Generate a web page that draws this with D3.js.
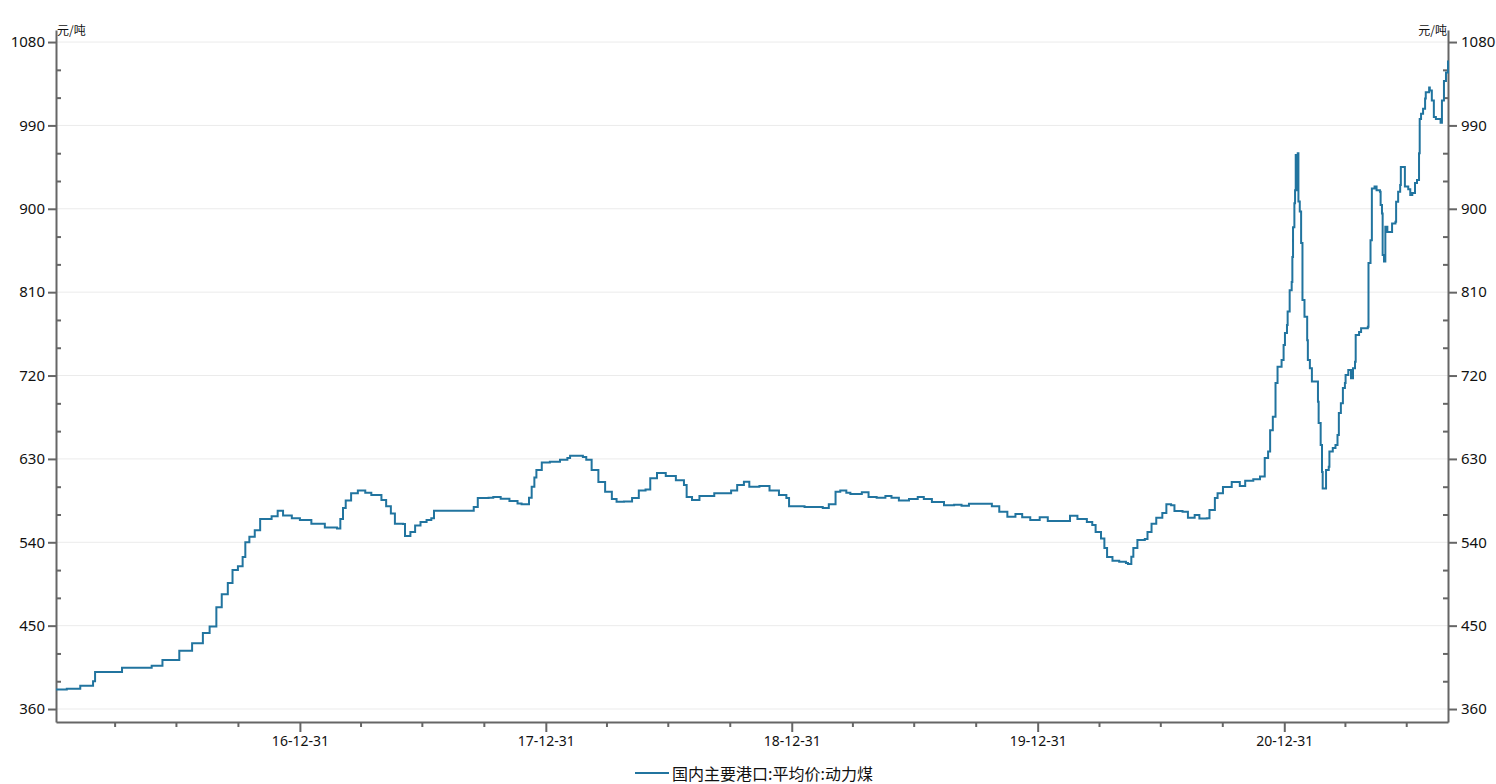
<!DOCTYPE html>
<html>
<head>
<meta charset="utf-8">
<script src="https://cdn.jsdelivr.net/npm/d3@7/dist/d3.min.js"></script>
<style>
  html, body { margin: 0; padding: 0; background: #fff; }
  svg { display: block; font-family: "Noto Sans", "Noto Sans CJK SC", sans-serif; }
</style>
</head>
<body>
<svg id="chart" width="1496" height="784"></svg>
<script>
// ---- data ----
const seriesName = "国内主要港口:平均价:动力煤";
const unitLabel = "元/吨";
const dates = [
"2016-01-04","2016-01-20","2016-02-09","2016-02-28","2016-03-02","2016-04-11","2016-05-25","2016-06-10","2016-07-05","2016-07-24",
"2016-08-09","2016-08-19","2016-08-29","2016-09-06","2016-09-15","2016-09-22","2016-09-30","2016-10-07","2016-10-11","2016-10-17",
"2016-10-25","2016-11-02","2016-11-19","2016-11-28","2016-12-06","2016-12-19","2016-12-31",
"2017-01-17","2017-02-06","2017-02-24","2017-03-01","2017-03-05","2017-03-09","2017-03-17","2017-03-27","2017-04-07","2017-04-16",
"2017-05-01","2017-05-08","2017-05-15","2017-05-21","2017-06-02","2017-06-05","2017-06-13","2017-06-20","2017-06-28","2017-07-07",
"2017-07-14","2017-07-18","2017-09-08","2017-09-15","2017-09-21","2017-10-07","2017-10-14","2017-10-25","2017-11-07","2017-11-19",
"2017-11-25","2017-12-06","2017-12-10","2017-12-14","2017-12-17","2017-12-25",
"2018-01-06","2018-01-21","2018-02-01","2018-02-05","2018-02-24","2018-03-01","2018-03-09","2018-03-19","2018-03-29","2018-04-08",
"2018-04-15","2018-04-26","2018-05-08","2018-05-18","2018-05-28","2018-06-04","2018-06-14","2018-06-27","2018-07-12","2018-07-24",
"2018-07-28","2018-08-05","2018-08-16","2018-09-07","2018-10-02","2018-10-11","2018-10-21","2018-10-29","2018-11-13","2018-11-28",
"2018-12-12","2018-12-23","2018-12-27",
"2019-01-19","2019-02-15","2019-02-24","2019-03-06","2019-03-13","2019-03-22","2019-03-28","2019-04-14","2019-04-24","2019-05-06",
"2019-05-19","2019-05-28","2019-06-08","2019-06-23","2019-07-06","2019-07-15","2019-07-27","2019-08-14","2019-08-29","2019-09-09",
"2019-09-20","2019-10-15","2019-10-24","2019-11-04","2019-11-16","2019-11-28","2019-12-08","2019-12-20",
"2020-01-03","2020-01-15","2020-02-05","2020-02-17","2020-02-28","2020-03-13","2020-03-21","2020-03-26","2020-04-03","2020-04-08",
"2020-04-12","2020-04-20","2020-04-30","2020-05-10","2020-05-13","2020-05-18","2020-05-21","2020-05-27","2020-06-07","2020-06-11",
"2020-06-17","2020-06-24","2020-07-03","2020-07-09","2020-07-16","2020-07-21","2020-08-02","2020-08-10","2020-08-20","2020-08-27",
"2020-09-07","2020-09-11","2020-09-19","2020-09-23","2020-10-01","2020-10-14","2020-10-26","2020-11-03","2020-11-15","2020-11-25",
"2020-12-02","2020-12-07","2020-12-10","2020-12-14","2020-12-18","2020-12-21","2020-12-27","2020-12-30",
"2021-01-01","2021-01-04","2021-01-05","2021-01-08","2021-01-11","2021-01-12","2021-01-13","2021-01-15","2021-01-16","2021-01-17",
"2021-01-18","2021-01-20","2021-01-21","2021-01-23","2021-01-25","2021-01-27","2021-01-30","2021-02-03","2021-02-04","2021-02-07",
"2021-02-10","2021-02-17","2021-02-19","2021-02-20","2021-02-23","2021-02-25","2021-02-26","2021-03-01","2021-03-03","2021-03-07",
"2021-03-08","2021-03-13","2021-03-17","2021-03-20","2021-03-22","2021-03-25","2021-03-28","2021-03-31","2021-04-01","2021-04-05",
"2021-04-09","2021-04-12","2021-04-15","2021-04-16","2021-04-21","2021-04-24","2021-05-04","2021-05-05","2021-05-08","2021-05-10",
"2021-05-14","2021-05-17","2021-05-22","2021-05-23","2021-05-25","2021-05-26","2021-05-28","2021-05-30","2021-06-02","2021-06-08",
"2021-06-09","2021-06-14","2021-06-15","2021-06-18","2021-06-21","2021-06-22","2021-06-27","2021-06-28","2021-07-03","2021-07-06",
"2021-07-09","2021-07-13","2021-07-16","2021-07-19","2021-07-20","2021-07-22","2021-07-25","2021-07-28","2021-07-29","2021-08-03",
"2021-08-04","2021-08-07","2021-08-10","2021-08-13","2021-08-20","2021-08-22","2021-08-25","2021-08-28","2021-08-31"
];
const values = [
381,382,385,390,400,404.6,406.7,413,423,431,
442,449,470,484,496,510,514,524,540,546,
553,565,568,574,569,566,564,
560,556,555,565,577,585,593,596,593.5,591,
585.6,579,571,560,559.7,546.7,551,558,562,564,
566,574,574,578,587.7,588,589,587,584.5,582,
581,588,600,610,618,626,
627,629,631,633.5,632,629,618,605,594.6,586.7,
583.8,584,587.7,596,597,609,614.8,611.5,607,601.8,
589,585.6,590,593,596,601.8,605.4,600,600.7,596,
591,587.7,579,
578,577,581,594.6,596,593.5,592,594,589,588,
590,588,585,586.7,589,586.7,583.5,580,580.5,579.5,
581.6,581.6,579,573,567.6,570.5,567,564,
567,563,563,568.6,565,562,558.6,551,544,533.8,
524,520,519,517.6,516.5,524.5,533.8,542.4,543.5,551,
560,566.5,571.6,581,580,573.7,573,566.5,569.4,565.8,
566,574.8,587.7,593,599.6,605,600.7,606.5,608,611,
631,638,661,675.5,712,729.6,736.7,753,
766,774.5,789,812,821,848,880,906,920,958,
920,960,908,897,863,801.5,783.5,758,736.7,728,
713.5,713.5,691.7,668.7,645,616,598,598,618,621.5,
638,641.7,645,655.8,679.5,690,706.5,712,720.6,726,
717,728,735,763.7,767,771,772.7,841.5,866,922,
924,920,918.5,904,895,850,843,880.6,875,875,
884,886,907.6,918.5,925.6,945,945,924,921,915,
917,927.8,931,960,997,1002.5,1008,1019,1025.7,1031,
1027.6,1017,999,997,993,1017,1038,1047,1060
];
const yTickValues = [360,390,420,450,480,510,540,570,600,630,660,690,720,750,780,810,840,870,900,930,960,990,1020,1050,1080];
const yLabelValues = [360,450,540,630,720,810,900,990,1080];
const xYearLabels = ["16-12-31","17-12-31","18-12-31","19-12-31","20-12-31"];

(function () {
  const svg = d3.select("#chart");
  const mLeft = 56, mRight = 1448, mTop = 30, mBottom = 722;
  const parse = d3.timeParse("%Y-%m-%d");
  const data = dates.map((d, i) => ({ date: parse(d), value: values[i] }));

  const x = d3.scaleTime()
    .domain([parse("2016-01-04"), parse("2021-08-31")])
    .range([mLeft, mRight]);
  const y = d3.scaleLinear().domain([346, 1093]).range([mBottom, mTop]);

  const axisColor = "#666666";

  // gridlines
  svg.append("g").selectAll("line").data(yLabelValues).join("line")
    .attr("x1", mLeft).attr("x2", mRight)
    .attr("y1", d => y(d)).attr("y2", d => y(d))
    .attr("stroke", "#ebebeb").attr("stroke-width", 1);

  // quarter-end ticks
  const quarterEnds = [];
  for (let yr = 2016; yr <= 2021; yr++) {
    [3, 6, 9, 12].forEach(m => {
      const d = new Date(yr, m, 0);
      if (d >= x.domain()[0] && d <= x.domain()[1]) quarterEnds.push(d);
    });
  }
  const fmt = d3.timeFormat("%y-%m-%d");
  const isMajorX = d => xYearLabels.includes(fmt(d));

  const xAxis = d3.axisBottom(x)
    .tickValues(quarterEnds)
    .tickSizeInner(9)
    .tickSizeOuter(0)
    .tickPadding(5)
    .tickFormat(d => isMajorX(d) ? fmt(d) : "");
  const gx = svg.append("g").attr("transform", `translate(0,${mBottom})`).call(xAxis);
  gx.selectAll(".tick line").attr("y2", d => isMajorX(d) ? 10 : 5);

  const isMajorY = d => yLabelValues.includes(d);
  const yAxisL = d3.axisLeft(y).tickValues(yTickValues).tickSizeInner(8).tickSizeOuter(0).tickPadding(3)
    .tickFormat(d => isMajorY(d) ? d : "");
  const gyl = svg.append("g").attr("transform", `translate(${mLeft},0)`).call(yAxisL);
  gyl.selectAll(".tick line").attr("x2", d => isMajorY(d) ? -8 : 5);

  const yAxisR = d3.axisRight(y).tickValues(yTickValues).tickSizeInner(9).tickSizeOuter(0).tickPadding(4)
    .tickFormat(d => isMajorY(d) ? d : "");
  const gyr = svg.append("g").attr("transform", `translate(${mRight},0)`).call(yAxisR);
  gyr.selectAll(".tick line").attr("x2", d => isMajorY(d) ? 9 : -5);

  [gx, gyl, gyr].forEach(g => {
    g.select(".domain").attr("stroke", axisColor).attr("stroke-width", 2);
    g.selectAll(".tick line").attr("stroke", axisColor).attr("stroke-width", 2);
    g.selectAll(".tick text").attr("fill", "#111").style("font-family", '"Noto Sans", sans-serif');
  });
  gx.selectAll(".tick text").style("font-size", "14px");
  gyl.selectAll(".tick text").style("font-size", "15px");
  gyr.selectAll(".tick text").style("font-size", "15px");

  // unit labels
  svg.append("text").attr("x", mLeft + 1).attr("y", 35).text(unitLabel)
    .style("font-size", "12px").style("font-family", '"Noto Sans CJK SC", sans-serif').attr("fill", "#111");
  svg.append("text").attr("x", mRight - 1).attr("y", 35).attr("text-anchor", "end").text(unitLabel)
    .style("font-size", "12px").style("font-family", '"Noto Sans CJK SC", sans-serif').attr("fill", "#111");

  // line
  const lineColor = "#21749f";
  const line = d3.line().x(d => x(d.date)).y(d => y(d.value)).curve(d3.curveStepAfter);
  svg.append("path").datum(data)
    .attr("d", line).attr("fill", "none")
    .attr("stroke", lineColor).attr("stroke-width", 2)
    .attr("stroke-linejoin", "miter");

  // legend
  const lg = svg.append("g");
  lg.append("line").attr("x1", 635).attr("x2", 669).attr("y1", 773).attr("y2", 773)
    .attr("stroke", lineColor).attr("stroke-width", 2);
  lg.append("text").attr("x", 672).attr("y", 780).text(seriesName)
    .style("font-size", "16px").style("font-family", '"Noto Sans CJK SC", sans-serif').attr("fill", "#111");
})();
</script>
</body>
</html>
